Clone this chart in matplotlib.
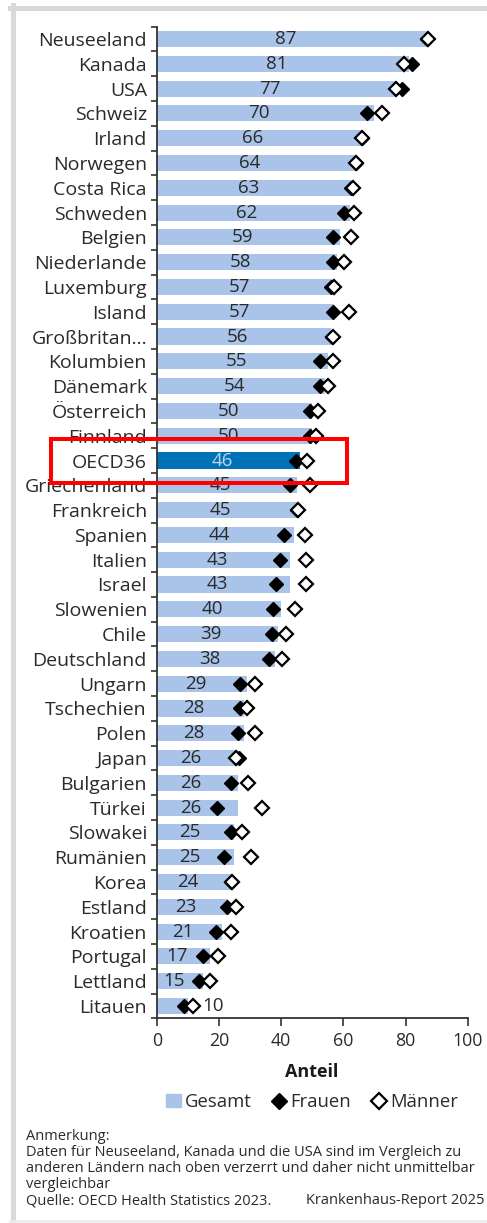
import matplotlib
matplotlib.use("Agg")
import matplotlib.pyplot as plt
import numpy as np
from matplotlib.patches import Patch, Rectangle
from matplotlib.lines import Line2D

plt.rcParams['font.family'] = ['Open Sans', 'DejaVu Sans']

countries = ["Neuseeland", "Kanada", "USA", "Schweiz", "Irland", "Norwegen", "Costa Rica",
             "Schweden", "Belgien", "Niederlande", "Luxemburg", "Island", "Großbritan...",
             "Kolumbien", "Dänemark", "Österreich", "Finnland", "OECD36", "Griechenland",
             "Frankreich", "Spanien", "Italien", "Israel", "Slowenien", "Chile", "Deutschland",
             "Ungarn", "Tschechien", "Polen", "Japan", "Bulgarien", "Türkei", "Slowakei",
             "Rumänien", "Korea", "Estland", "Kroatien", "Portugal", "Lettland", "Litauen"]
gesamt = [87, 81, 77, 70, 66, 64, 63, 62, 59, 58, 57, 57, 56, 55, 54, 50, 50, 46, 45, 45,
          44, 43, 43, 40, 39, 38, 29, 28, 28, 26, 26, 26, 25, 25, 24, 23, 21, 17, 15, 10]
frauen = [87, 82.2, 79.0, 67.5, 66, 64, 62.5, 60.3, 56.8, 56.6, 56, 56.8, 56.3, 52.5, 52.5,
          49.3, 49.3, 44.7, 42.9, 45, 41.0, 39.6, 38.3, 37.5, 37.2, 36.1, 26.8, 26.8, 26.0,
          26.5, 23.9, 19.3, 23.9, 21.7, 24, 22.5, 19.0, 15.0, 13.6, 8.9]
maenner = [87.1, 79.6, 76.8, 72.3, 66.1, 64.1, 63.2, 63.5, 62.5, 60.3, 57.1, 61.9, 56.8, 56.8,
           55.0, 52.0, 51.2, 48.2, 49.3, 45.3, 47.7, 48.0, 48.0, 44.5, 41.5, 40.4, 31.6, 28.9,
           31.6, 25.4, 29.3, 33.8, 27.5, 30.3, 24.3, 25.4, 23.9, 19.6, 17.1, 11.8]

light = '#a9c4e8'
dark_blue = '#0072b8'
txt = '#2a2a2a'
W, H = 487, 1223

fig = plt.figure(figsize=(W / 100, H / 100), dpi=100)
ax = fig.add_axes([156.7 / W, 1 - 1018.4 / H, 311 / W, 991.8 / H])

y = np.arange(len(countries))
colors = [dark_blue if c == "OECD36" else light for c in countries]
ax.barh(y, gesamt, height=0.65, color=colors, zorder=2)
ax.plot(frauen, y, ls='none', marker='D', ms=7, color='black', zorder=3)
ax.plot(maenner, y, ls='none', marker='D', ms=7, mfc='white', mec='black', mew=1.6, zorder=4)

# value labels
for i, v in enumerate(gesamt):
    if v < 12:
        ax.text(maenner[i] + 3, i, str(v), ha='left', va='center', fontsize=13.5, color=txt, zorder=5)
    else:
        col = '#b8d4ee' if countries[i] == "OECD36" else txt
        ax.text(v / 2 - 2, i, str(v), ha='center', va='center', fontsize=13.5, color=col, zorder=5)

ax.set_xlim(0, 100)
ax.set_ylim(len(countries) - 0.5, -0.5)
ax.set_xticks([0, 20, 40, 60, 80, 100])
ax.set_yticks(y)
ax.set_yticklabels(countries)
ax.set_yticks(np.arange(-0.5, len(countries), 1), minor=True)
ax.tick_params(axis='y', which='major', length=0, pad=7, labelsize=14, labelcolor=txt)
ax.tick_params(axis='y', which='minor', length=4.5, width=1.2, color='#333333')
ax.tick_params(axis='x', length=6, width=1.2, color='#333333', pad=4, labelsize=12.8, labelcolor=txt)
for s in ['top', 'right']:
    ax.spines[s].set_visible(False)
for s in ['left', 'bottom']:
    ax.spines[s].set_linewidth(1.3)
    ax.spines[s].set_color('#333333')

fig.text(312 / W, 1 - 1072 / H, "Anteil", ha='center', va='center', fontsize=13,
         fontweight='bold', color='#1a1a1a')

handles = [Patch(color=light, label='Gesamt'),
           Line2D([], [], ls='none', marker='D', ms=8, color='black', label='Frauen'),
           Line2D([], [], ls='none', marker='D', ms=8, mfc='white', mec='black', mew=1.6, label='Männer')]
fig.legend(handles=handles, loc='center', bbox_to_anchor=(312 / W, 1 - 1102 / H), ncol=3,
           frameon=False, fontsize=13.3, handlelength=0.8, handletextpad=0.2, columnspacing=1.1,
           labelcolor=txt)

notes = ["Anmerkung:",
         "Daten für Neuseeland, Kanada und die USA sind im Vergleich zu",
         "anderen Ländern nach oben verzerrt und daher nicht unmittelbar",
         "vergleichbar",
         "Quelle: OECD Health Statistics 2023."]
for k, line in enumerate(notes):
    fig.text(26 / W, 1 - (1136 + 16.2 * k) / H, line, ha='left', va='center', fontsize=10.55, color=txt)
fig.text(485 / W, 1 - 1201 / H, "Krankenhaus-Report 2025", ha='right', va='center', fontsize=10.55, color=txt)

# light grey frame
frame = '#d9d9d9'
fig.add_artist(Line2D([10 / W, 1], [1 - 7.5 / H] * 2, color=frame, lw=3.6, transform=fig.transFigure))
fig.add_artist(Line2D([12.5 / W] * 2, [1 - 5 / H, 1 - 1221 / H], color=frame, lw=3.6, transform=fig.transFigure))
fig.add_artist(Line2D([10 / W, 1], [1 - 1221 / H] * 2, color='#ececec', lw=2, transform=fig.transFigure))

# red highlight box around OECD row
fig.add_artist(Rectangle((51 / W, 1 - 483 / H), 295.5 / W, 44.5 / H, fill=False,
                         ec='#ff0000', lw=2.9, transform=fig.transFigure, zorder=10))

fig.savefig("out.png", dpi=100)
